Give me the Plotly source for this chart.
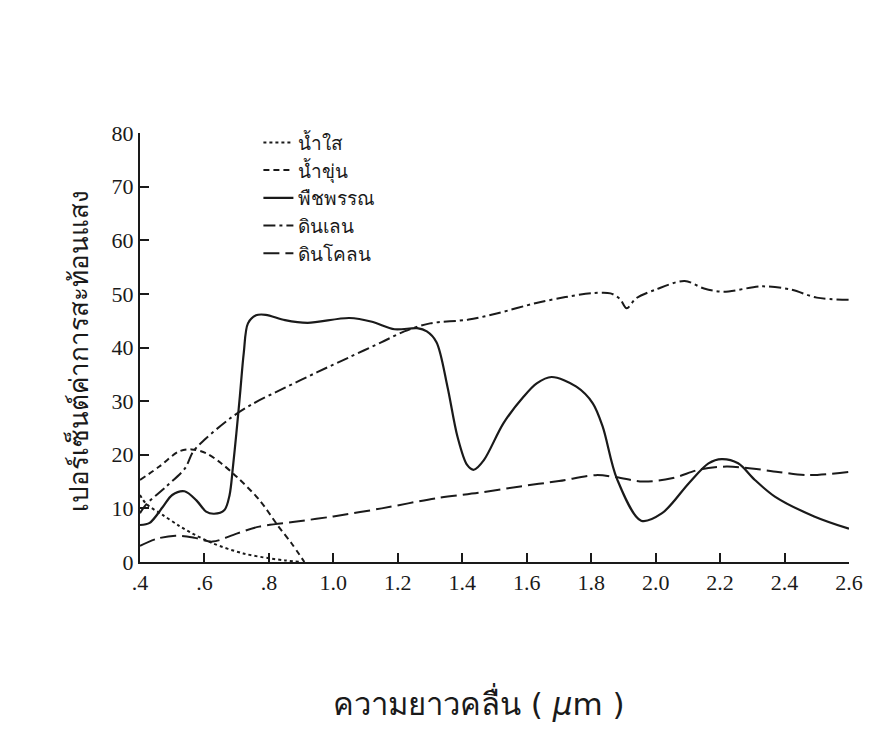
import plotly.graph_objects as go

# ---- data ----
clear_x = [0.40, 0.42, 0.47, 0.52, 0.56, 0.625, 0.72, 0.80, 0.85, 0.90]
clear_y = [12.5, 10.8, 8.8, 6.8, 5.4, 3.5, 1.6, 0.7, 0.3, 0.0]

turbid_x = [0.40, 0.46, 0.52, 0.56, 0.605, 0.65, 0.70, 0.77, 0.83, 0.87, 0.91]
turbid_y = [15.3, 17.8, 20.6, 21.0, 20.3, 18.5, 15.9, 11.6, 6.6, 3.5, 0.0]

veg_x = [0.40, 0.43, 0.47, 0.50, 0.538, 0.575, 0.605, 0.63, 0.662, 0.678, 0.688, 0.699,
         0.71, 0.722, 0.735, 0.76, 0.79, 0.85, 0.92, 1.05, 1.12, 1.19, 1.26, 1.29,
         1.32, 1.354, 1.385, 1.415, 1.436, 1.467, 1.528, 1.59, 1.631, 1.677, 1.754,
         1.805, 1.836, 1.88, 1.955, 2.02, 2.103, 2.164, 2.205, 2.256,
         2.308, 2.37, 2.492, 2.60]
veg_y = [6.9, 7.3, 10.2, 12.5, 13.2, 11.5, 9.4, 9.0, 9.7, 12.5, 17.5, 24.0,
         31.0, 39.0, 44.5, 46.0, 46.1, 45.1, 44.6, 45.5, 44.8, 43.4, 43.6, 43.0,
         41.0, 32.7, 23.4, 18.1, 17.2, 19.0, 25.9, 30.8, 33.3, 34.5, 32.7,
         29.6, 25.2, 15.5, 7.7, 9.1, 14.7, 18.4, 19.2, 18.4,
         15.3, 12.2, 8.5, 6.2]

drysoil_x = [0.40, 0.42, 0.48, 0.54, 0.565, 0.60, 0.68, 0.75, 0.85, 0.95, 1.05, 1.15,
             1.22, 1.30, 1.42, 1.51, 1.63, 1.72, 1.80, 1.86, 1.89, 1.91, 1.94, 2.00,
             2.09, 2.15, 2.21, 2.33, 2.42, 2.50, 2.60]
drysoil_y = [9.1, 10.8, 14.0, 17.5, 20.6, 22.8, 26.8, 29.5, 32.5, 35.4, 38.2, 41.0,
             43.0, 44.5, 45.2, 46.4, 48.3, 49.4, 50.1, 50.1, 49.0, 47.3, 49.2, 50.8,
             52.4, 51.0, 50.4, 51.4, 50.8, 49.3, 48.9]

wetsoil_x = [0.40, 0.45, 0.51, 0.57, 0.625, 0.70, 0.77, 0.88, 1.00, 1.15, 1.32, 1.45,
             1.58, 1.70, 1.815, 1.88, 1.96, 2.05, 2.14, 2.22, 2.29, 2.38, 2.47, 2.60]
wetsoil_y = [3.0, 4.3, 4.9, 4.5, 3.8, 5.3, 6.6, 7.5, 8.5, 10.0, 11.9, 12.9,
             14.1, 15.1, 16.2, 15.8, 15.0, 15.6, 17.3, 17.8, 17.5, 16.8, 16.2, 16.8]

x_tickvals = [0.4, 0.6, 0.8, 1.0, 1.2, 1.4, 1.6, 1.8, 2.0, 2.2, 2.4, 2.6]
x_ticktext = [".4", ".6", ".8", "1.0", "1.2", "1.4", "1.6", "1.8", "2.0", "2.2", "2.4", "2.6"]
y_tickvals = [0, 10, 20, 30, 40, 50, 60, 70, 80]

names = ["น้ำใส", "น้ำขุ่น", "พืชพรรณ", "ดินเลน", "ดินโคลน"]

INK = "#1a1a1a"
series = [
    (clear_x, clear_y, names[0], "dot", 2),
    (turbid_x, turbid_y, names[1], "6px,4px", 2),
    (veg_x, veg_y, names[2], "solid", 2.2),
    (drysoil_x, drysoil_y, names[3], "12px,4px,3px,4px", 2),
    (wetsoil_x, wetsoil_y, names[4], "16px,6px", 2),
]

fig = go.Figure()
for xs, ys, nm, dash, w in series:
    fig.add_trace(go.Scatter(
        x=xs, y=ys, name=nm, mode="lines",
        line=dict(color=INK, width=w, dash=dash, shape="spline", smoothing=0.9),
    ))

serif = "Liberation Serif, Times New Roman, serif"

fig.update_layout(
    width=875, height=754,
    margin=dict(l=140, r=20, t=133, b=192),
    paper_bgcolor="white", plot_bgcolor="white",
    font=dict(family=serif, color=INK, size=17),
    legend=dict(
        x=0.167, y=1.022, xanchor="left", yanchor="top",
        bgcolor="rgba(0,0,0,0)", font=dict(size=19, family=serif),
        tracegroupgap=0, itemwidth=30,
    ),
    xaxis=dict(
        range=[0.4, 2.6], tickvals=x_tickvals, ticktext=x_ticktext,
        showline=True, linecolor=INK, linewidth=2,
        ticks="inside", ticklen=9, tickwidth=2, tickcolor=INK,
        showgrid=False, zeroline=False,
        tickfont=dict(size=22, family=serif),
    ),
    yaxis=dict(
        range=[0, 80], tickvals=y_tickvals,
        showline=True, linecolor=INK, linewidth=2,
        ticks="inside", ticklen=9, tickwidth=2, tickcolor=INK,
        showgrid=False, zeroline=False,
        tickfont=dict(size=22, family=serif),
    ),
    annotations=[
        dict(text="ความยาวคลื่น ( <i>μ</i>m )", xref="paper", yref="paper",
             x=0.478, y=-0.327, xanchor="center", yanchor="middle",
             showarrow=False, font=dict(size=31, family="DejaVu Sans, sans-serif", color=INK)),
        dict(text="เปอร์เซ็นต์ค่าการสะท้อนแสง", xref="paper", yref="paper",
             x=-0.086, y=0.492, xanchor="center", yanchor="middle", textangle=-90,
             showarrow=False, font=dict(size=26, family="DejaVu Sans, sans-serif", color=INK)),
    ],
)

fig.write_html("out.html")
